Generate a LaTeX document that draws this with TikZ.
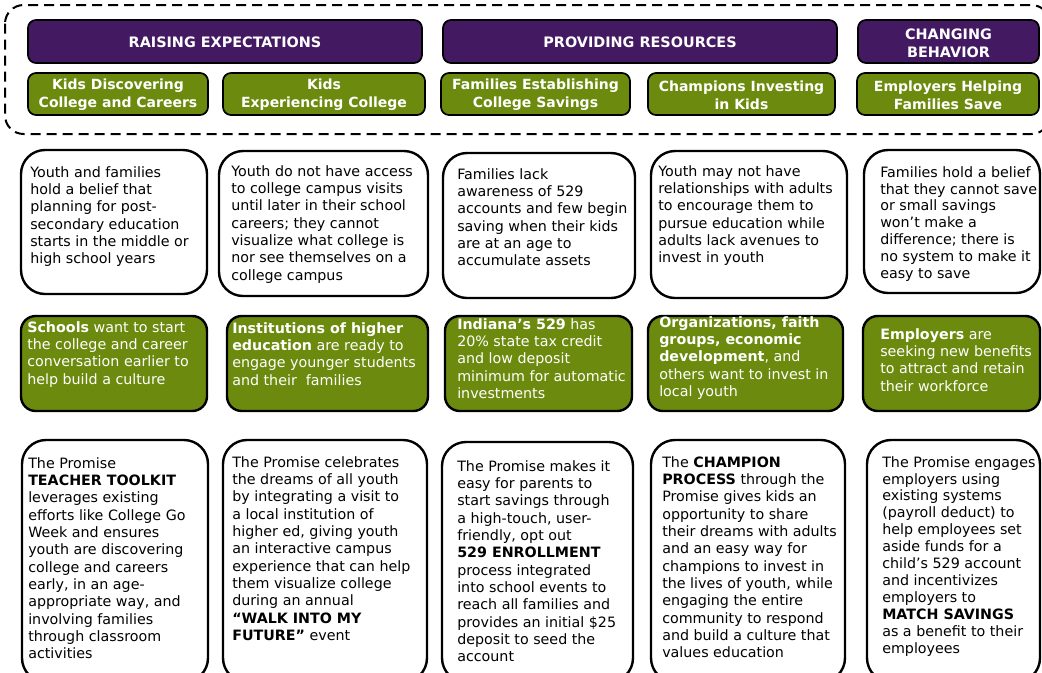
\documentclass[tikz,border=0pt]{standalone}
\usepackage{fontspec}
\setmainfont{DejaVu Sans}
\definecolor{prompurple}{HTML}{431A62}
\definecolor{promgreen}{HTML}{6C8B0E}
\tikzset{
  dashbox/.style={draw=black, line width=1.5pt, dash pattern=on 7.5pt off 4.5pt, rounded corners=14pt},
  headbox/.style={draw=black, line width=1.3pt, fill=prompurple, rounded corners=6pt},
  pillbox/.style={draw=black, line width=1.3pt, fill=promgreen, rounded corners=6pt},
  whitebox/.style={draw=black, line width=1.8pt, fill=white, rounded corners=18pt},
  greenbox/.style={draw=black, line width=1.8pt, fill=promgreen, rounded corners=11pt},
  headtxt/.style={text=white, align=center, inner sep=0pt, font=\fontsize{10.8}{13.5}\selectfont\bfseries},
  pilltxt/.style={text=white, align=center, inner sep=0pt, font=\fontsize{10.5}{13.4}\selectfont\bfseries},
  bodytxt/.style={anchor=north west, align=left, inner sep=0pt, font=\fontsize{10.7}{13}\selectfont},
  tighttxt/.style={bodytxt, font=\fontsize{10.7}{12.7}\selectfont},
  greentxt/.style={bodytxt, text=white},
}
\begin{document}
\begin{tikzpicture}[x=0.75pt,y=-0.75pt]
\useasboundingbox (0,0) rectangle (1042,672);
\clip (0,0) rectangle (1042,672);
%
\draw[dashbox] (5,5) rectangle (1050,134);
%
% strategy headers
\draw[headbox] (28,20) rectangle (422,63);
\draw[headbox] (443,20) rectangle (837,63);
\draw[headbox] (858,20) rectangle (1039,63);
\node[headtxt] (raising) at (225,42) {RAISING EXPECTATIONS};
\node[headtxt] (providing) at (640,42) {PROVIDING RESOURCES};
\node[headtxt] (changing) at (948.5,43) {CHANGING\\ BEHAVIOR};
%
\draw[pillbox] (28,73) rectangle (208,115);
\draw[pillbox] (223,73) rectangle (425,115);
\draw[pillbox] (441,73) rectangle (630,115);
\draw[pillbox] (648,73) rectangle (835,115);
\draw[pillbox] (857,73) rectangle (1039,115);
\node[pilltxt] (discover) at (118,95) {Kids Discovering\\ College and Careers};
\node[pilltxt] (experience) at (324,95) {Kids\\ Experiencing College};
\node[pilltxt] (savings) at (535.5,95) {Families Establishing\\ College Savings};
\node[pilltxt] (champions) at (741.5,95) {Champions Investing\\ in Kids};
\node[pilltxt] (employers) at (948,95) {Employers Helping\\ Families Save};
%
% problems
\draw[whitebox] (21,150) rectangle (207,294);
\draw[whitebox] (219,151) rectangle (428,296);
\draw[whitebox] (443,153) rectangle (635,298);
\draw[whitebox] (651,151) rectangle (847,298);
\draw[whitebox] (864,150) rectangle (1040,293);
\node[bodytxt] (prob1) at (30,166) {Youth and families\\ hold a belief that\\ planning for post-\\ secondary education\\ starts in the middle or\\ high school years};
\node[bodytxt] (prob2) at (231,165) {Youth do not have access\\ to college campus visits\\ until later in their school\\ careers; they cannot\\ visualize what college is\\ nor see themselves on a\\ college campus};
\node[bodytxt] (prob3) at (457,168) {Families lack\\ awareness of 529\\ accounts and few begin\\ saving when their kids\\ are at an age to\\ accumulate assets};
\node[bodytxt] (prob4) at (658,165) {Youth may not have\\ relationships with adults\\ to encourage them to\\ pursue education while\\ adults lack avenues to\\ invest in youth};
\node[tighttxt] (prob5) at (880,166) {Families hold a belief\\ that they cannot save\\ or small savings\\ won’t make a\\ difference; there is\\ no system to make it\\ easy to save};
%
% assets
\draw[greenbox] (21,316) rectangle (207,411);
\draw[greenbox] (227,316) rectangle (428,411);
\draw[greenbox] (445,316) rectangle (632,411);
\draw[greenbox] (648,316) rectangle (843,411);
\draw[greenbox] (863,316) rectangle (1040,411);
\node[greentxt] (asset1) at (27,321) {\textbf{Schools} want to start\\ the college and career\\ conversation earlier to\\ help build a culture};
\node[greentxt] (asset2) at (232,322) {\textbf{Institutions of higher}\\ \textbf{education} are ready to\\ engage younger students\\ and their\ \ families};
\node[greentxt] (asset3) at (457,318) {\textbf{Indiana’s 529} has\\ 20\% state tax credit\\ and low deposit\\ minimum for automatic\\ investments};
\node[greentxt] (asset4) at (659,316) {\textbf{Organizations, faith}\\ \textbf{groups, economic}\\ \textbf{development}, and\\ others want to invest in\\ local youth};
\node[greentxt] (asset5) at (880,328) {\textbf{Employers} are\\ seeking new benefits\\ to attract and retain\\ their workforce};
%
% solutions
\draw[whitebox] (22,440) rectangle (208,682);
\draw[whitebox] (223,440) rectangle (427,682);
\draw[whitebox] (442,442) rectangle (633,682);
\draw[whitebox] (651,440) rectangle (845,682);
\draw[whitebox] (867,440) rectangle (1040,682);
\node[bodytxt] (sol1) at (28,457) {The Promise\\ \textbf{TEACHER TOOLKIT}\\ leverages existing\\ efforts like College Go\\ Week and ensures\\ youth are discovering\\ college and careers\\ early, in an age-\\ appropriate way, and\\ involving families\\ through classroom\\ activities};
\node[bodytxt] (sol2) at (232,456) {The Promise celebrates\\ the dreams of all youth\\ by integrating a visit to\\ a local institution of\\ higher ed, giving youth\\ an interactive campus\\ experience that can help\\ them visualize college\\ during an annual\\ \textbf{“WALK INTO MY}\\ \textbf{FUTURE”} event};
\node[bodytxt] (sol3) at (457,460) {The Promise makes it\\ easy for parents to\\ start savings through\\ a high-touch, user-\\ friendly, opt out\\ \textbf{529 ENROLLMENT}\\ process integrated\\ into school events to\\ reach all families and\\ provides an initial \$25\\ deposit to seed the\\ account};
\node[bodytxt] (sol4) at (662,456) {The \textbf{CHAMPION}\\ \textbf{PROCESS} through the\\ Promise gives kids an\\ opportunity to share\\ their dreams with adults\\ and an easy way for\\ champions to invest in\\ the lives of youth, while\\ engaging the entire\\ community to respond\\ and build a culture that\\ values education};
\node[tighttxt] (sol5) at (882,456) {The Promise engages\\ employers using\\ existing systems\\ (payroll deduct) to\\ help employees set\\ aside funds for a\\ child’s 529 account\\ and incentivizes\\ employers to\\ \textbf{MATCH SAVINGS}\\ as a benefit to their\\ employees};
\end{tikzpicture}
\end{document}
